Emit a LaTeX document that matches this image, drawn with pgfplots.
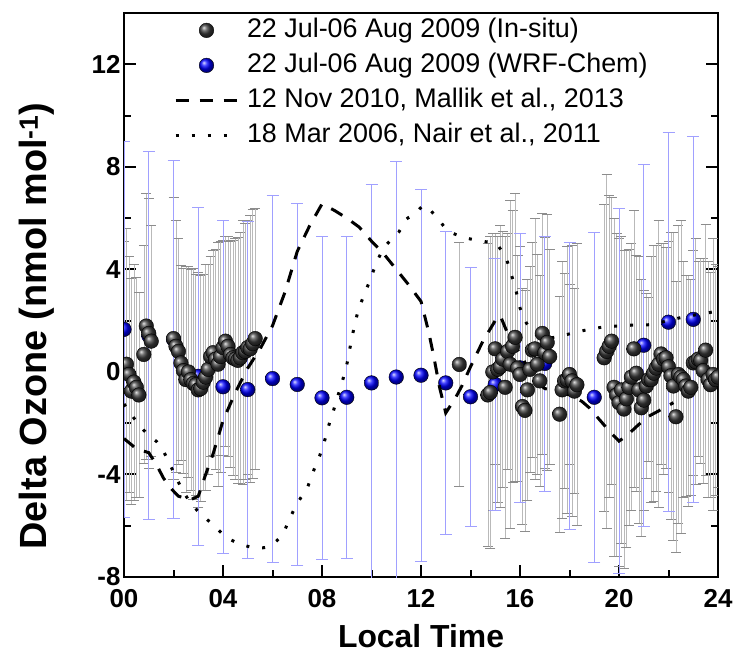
\documentclass[border=0pt]{standalone}
\usepackage{fontspec}
\setmainfont{Liberation Sans}
\usepackage{pgfplots}
\pgfplotsset{compat=1.18}
\usepackage{pgfplotstable}
\definecolor{insitu}{RGB}{60,60,60}
\definecolor{wrf}{RGB}{0,0,255}
\definecolor{ebgray}{RGB}{185,185,185}
\definecolor{ebgraycap}{RGB}{140,140,140}
\definecolor{ebblue}{RGB}{160,160,255}
\pgfplotsset{
 lineleg/.style={legend image code/.code={\draw[##1] (0bp,0bp) -- (63bp,0bp);}},
 ballleg/.style={legend image code/.code={\draw[##1] plot coordinates {(31bp,0bp)};}},
}
\pgfplotstableread{
x y e
0.0 0.2 4.9
0.1 0.3 5.3
0.2 -0.1 4.6
0.3 -0.75 4.4
0.4 -0.4 4.6
0.5 -0.6 4.3
0.6 -0.9 4.0
0.8 0.68 4.26
0.9 1.79 5.18
1.0 1.5 5.26
1.1 1.2 4.5
2.0 1.3 5.5
2.1 1.0 4.9
2.2 0.8 4.4
2.3 0.35 3.8
2.4 0.05 4.0
2.5 -0.3 4.4
2.6 0.0 4.1
2.7 -0.3 4.3
2.8 -0.45 4.5
2.9 -0.5 4.3
3.0 -0.7 4.6
3.1 -0.65 4.4
3.2 -0.4 4.2
3.3 -0.2 4.4
3.4 0.1 4.1
3.5 0.6 3.9
3.6 0.75 4.0
3.7 0.5 4.3
3.8 0.3 4.75
3.9 0.6 4.5
4.0 0.95 4.2
4.1 1.2 4.1
4.2 1.0 4.3
4.3 0.68 4.4
4.4 0.55 4.6
4.5 0.5 4.7
4.6 0.45 4.8
4.7 0.55 4.9
4.8 0.75 5.15
4.9 0.8 5.0
5.0 0.95 4.95
5.1 0.9 5.2
5.2 1.1 5.25
5.3 1.3 5.1
13.55 0.29 4.75
14.7 -0.9 5.9
14.8 -0.8 6.1
14.9 0.0 5.4
15.0 0.9 4.5
15.1 0.1 5.2
15.2 0.2 5.5
15.3 0.5 5.0
15.4 -0.6 5.9
15.5 0.8 4.6
15.6 0.3 6.4
15.7 1.0 5.3
15.8 1.35 5.6
15.9 0.15 4.4
16.0 -0.1 5.0
16.1 -1.35 4.6
16.2 -1.5 4.7
16.3 -0.7 4.3
16.4 0.1 4.0
16.5 0.85 4.2
16.6 0.9 5.1
16.7 0.3 4.3
16.8 -0.35 4.1
16.9 1.5 4.7
17.0 0.75 4.5
17.1 1.15 5.0
17.2 0.6 4.2
17.6 -1.65 4.6
17.7 -0.7 5.0
17.8 -0.35 4.2
17.9 -0.3 5.2
18.0 -0.1 3.5
18.1 -0.35 5.3
18.2 -0.75 4.0
18.3 -0.5 5.5
19.4 0.55 6.0
19.5 0.8 6.9
19.6 1.0 5.9
19.7 1.2 5.6
19.8 -0.6 6.6
19.9 -0.9 6.3
20.0 -1.2 6.4
20.1 -0.7 6.0
20.2 -1.45 6.2
20.3 -1.05 5.8
20.4 -0.6 5.4
20.5 -0.2 5.2
20.6 0.9 5.4
20.7 -0.05 4.6
20.8 -0.7 5.2
20.9 -1.4 5.0
21.0 -1.1 4.3
21.1 -0.55 3.6
21.2 -0.3 3.2
21.3 -0.3 4.8
21.4 -0.05 5.0
21.5 0.15 4.8
21.6 0.3 5.6
21.7 0.7 4.3
21.8 0.5 4.5
21.9 0.55 4.3
22.0 0.2 4.9
22.1 -0.15 5.6
22.2 -0.55 6.0
22.3 -1.75 5.3
22.4 -0.1 5.8
22.5 -0.2 6.1
22.6 -0.3 4.6
22.7 -0.55 4.3
22.8 -0.75 4.5
22.9 -0.6 4.2
23.0 0.35 4.4
23.1 0.4 4.8
23.2 0.5 3.8
23.3 0.45 4.0
23.4 0.05 4.4
23.5 0.85 4.9
23.6 -0.3 4.6
23.7 -0.5 4.4
23.8 -0.1 5.3
23.9 -0.3 4.5
24.0 -0.2 4.3
}\insitu
\pgfplotstableread{
x y e
0 1.66 7.35
1 1.42 7.18
2 1.27 6.98
3 -0.17 6.59
4 -0.58 6.5
5 -0.69 6.58
6 -0.26 7.16
7 -0.49 7.05
8 -1.01 6.3
9 -0.99 6.28
10 -0.43 7.75
11 -0.2 8.4
12 -0.13 7.25
13 -0.43 5.92
14 -0.97 5.04
15 -0.49 4.92
16 0.16 5.24
17 0.33 4.97
18 -0.55 5.59
19 -0.99 6.43
20 -0.75 7.12
21 1.04 7.05
22 1.94 7.39
23 2.05 7.15
}\wrf
\pgfplotstableread{
x y
0 -2.6
0.5 -3.0
1.0 -3.15
1.3 -3.6
1.6 -4.15
1.9 -4.55
2.2 -4.85
2.7 -4.98
3.0 -4.85
3.3 -4.0
3.6 -3.2
4.0 -1.9
4.5 -0.8
5.0 0.15
5.5 0.9
6.0 1.8
6.5 3.1
7.0 4.7
7.5 5.7
8.0 6.55
8.5 6.3
9.0 6.0
9.5 5.65
10.0 5.1
10.5 4.6
11.0 4.0
11.5 3.4
12.0 2.75
12.3 1.6
12.5 0.68
12.75 -0.6
13.0 -1.6
13.4 -1.0
13.65 -0.55
14.0 0.2
14.5 1.2
15.0 2.0
15.2 2.2
15.5 1.5
16.0 0.7
16.3 0.2
16.7 -0.4
17.0 -0.65
17.5 -0.75
18.0 -0.9
18.5 -1.15
18.8 -1.4
19.2 -1.85
19.6 -2.3
20.0 -2.7
20.3 -2.5
20.8 -2.05
21.2 -1.73
21.7 -1.47
22.2 -1.2
}\mallik
\pgfplotstableread{
x y
0 -1.25
0.5 -1.93
0.9 -2.38
1.45 -2.85
1.9 -3.7
2.25 -4.4
2.6 -4.98
3.05 -5.5
3.6 -5.96
4.1 -6.42
4.6 -6.68
5.3 -6.87
5.9 -6.8
6.4 -6.35
6.7 -5.7
7.05 -5.05
7.4 -4.53
7.65 -3.88
7.9 -3.29
8.1 -2.7
8.3 -2.0
8.5 -1.4
8.7 -0.75
8.9 -0.1
9.05 0.5
9.2 1.3
9.45 2.35
9.7 3.0
9.95 3.6
10.2 4.26
10.55 4.9
11.1 5.45
11.4 5.95
11.75 6.15
12.15 6.5
12.7 5.95
13.1 5.5
13.75 5.24
14.45 5.1
15.05 4.98
15.45 4.39
15.65 3.8
15.85 3.12
16.0 2.5
16.25 1.92
16.65 1.46
17.25 1.33
17.9 1.46
18.6 1.62
19.3 1.74
19.95 1.79
20.65 1.83
21.3 1.85
22.55 2.13
23.25 2.25
24.0 2.37
}\nair
\begin{document}
\begin{tikzpicture}
\useasboundingbox (0,0) rectangle (739bp,656bp);
\begin{axis}[
 at={(124bp,79bp)}, anchor=south west,
 width=594bp, height=564bp, scale only axis,
 xmin=0, xmax=24, ymin=-8, ymax=14,
 xtick={0,4,8,12,16,20,24}, xticklabels={00,04,08,12,16,20,24},
 ytick={-8,-4,0,4,8,12}, yticklabels={-8,-4,0,4,8,12},
 minor xtick={2,6,10,14,18,22}, minor ytick={-6,-2,2,6,10},
 tick align=inside, xtick pos=lower, ytick pos=both, yticklabel pos=lower,
 major tick length=12bp, minor tick length=7bp,
 tick style={line width=2bp, black},
 axis line style={line width=2bp},
 tick label style={font=\bfseries\fontsize{26}{26}\selectfont},
 xticklabel style={yshift=-9bp},
 xlabel={Local Time},
 ylabel={Delta Ozone (nmol mol\textsuperscript{-1})},
 xlabel style={font=\bfseries\fontsize{32}{32}\selectfont, at={(axis description cs:0.5,-0.105)}, anchor=center},
 ylabel style={font=\bfseries\fontsize{38}{38}\selectfont, at={(axis description cs:-0.1465,0.445)}, anchor=center},
 clip marker paths=true,
 legend cell align=left,
 legend style={at={(axis description cs:0.0842,0.994)}, anchor=north west, draw=none, fill=none,
   inner sep=0pt, outer sep=0pt, font=\fontsize{27}{27}\selectfont, row sep=7bp, column sep=6bp,
   nodes={inner sep=1bp, text height=20bp, text depth=6bp}},
]
\addlegendimage{only marks, mark=ball, mark options={ball color=insitu}, mark size=7.3bp, ballleg}
\addlegendentry{22 Jul-06 Aug 2009 (In-situ)}
\addlegendimage{only marks, mark=ball, mark options={ball color=wrf}, mark size=7.3bp, ballleg}
\addlegendentry{22 Jul-06 Aug 2009 (WRF-Chem)}
\addlegendimage{black, line width=3bp, dash pattern=on 13bp off 11bp, lineleg}
\addlegendentry{12 Nov 2010, Mallik et al., 2013}
\addlegendimage{black, line width=3bp, dash pattern=on 3bp off 13bp, lineleg}
\addlegendentry{18 Mar 2006, Nair et al., 2011}

\addplot[draw=none, mark=none, forget plot,
  error bars/.cd, y dir=both, y explicit,
  error bar style={draw=ebgray, line width=0.6bp},
  error mark options={rotate=90, draw=ebgraycap, mark size=5bp, line width=0.6bp}]
  table[x=x, y=y, y error=e] {\insitu};
\addplot[only marks, mark=ball, mark options={ball color=wrf}, mark size=7.3bp, forget plot,
  error bars/.cd, y dir=both, y explicit,
  error bar style={draw=ebblue, line width=0.7bp},
  error mark options={rotate=90, draw=ebblue, mark size=6bp, line width=0.7bp}]
  table[x=x, y=y, y error=e] {\wrf};
\addplot[black, line width=3bp, dash pattern=on 13bp off 11bp, forget plot] table[x=x, y=y] {\mallik};
\addplot[black, line width=3bp, dash pattern=on 3bp off 13bp, smooth, tension=0.4, forget plot] table[x=x, y=y] {\nair};
\addplot[only marks, mark=ball, mark options={ball color=insitu}, mark size=7.3bp, forget plot]
  table[x=x, y=y] {\insitu};
\end{axis}
\end{tikzpicture}
\end{document}
